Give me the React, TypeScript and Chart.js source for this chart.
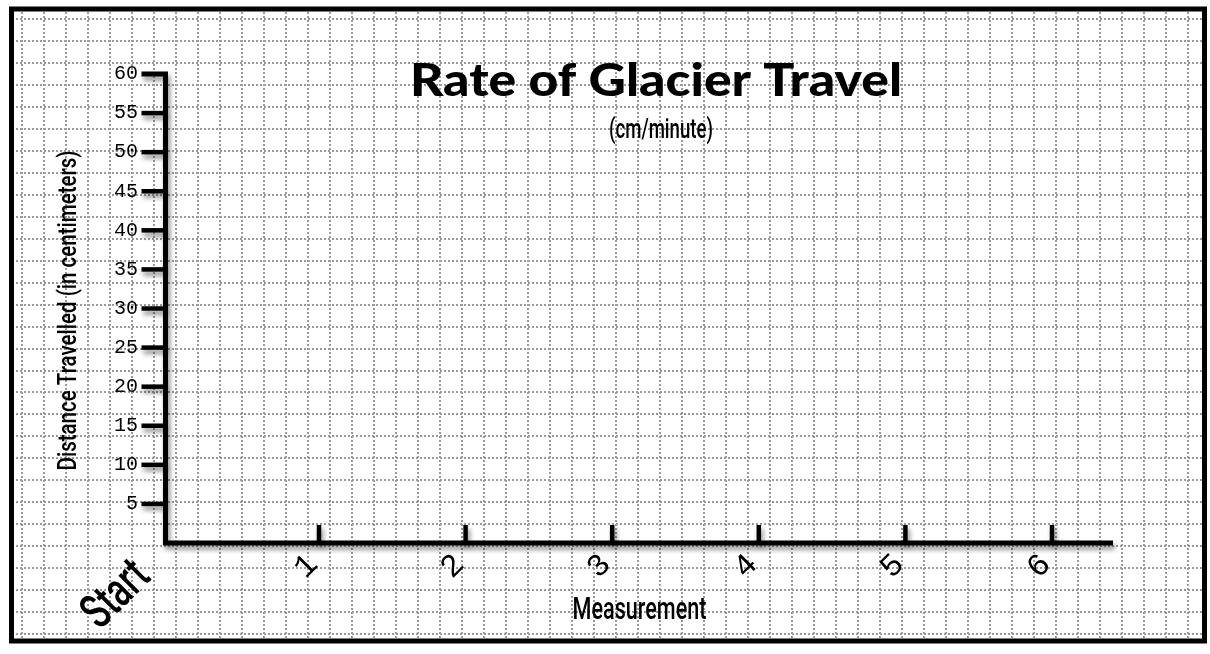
import React, { useEffect, useRef } from 'react';
import { Chart, registerables } from 'chart.js';

Chart.register(...registerables);

// ---- data (blank worksheet: no measurements recorded yet) ----
const xTickLabels = ['Start', '1', '2', '3', '4', '5', '6'];
const xTickValues = [0, 1, 2, 3, 4, 5, 6];
const yTickValues = [5, 10, 15, 20, 25, 30, 35, 40, 45, 50, 55, 60];
const distanceValues: { x: number; y: number }[] = [];
const titleText = 'Rate of Glacier Travel';
const subtitleText = '(cm/minute)';
const yAxisTitle = 'Distance Travelled (in centimeters)';
const xAxisTitle = 'Measurement';

const W = 1210;
const H = 654;
const COND = 'Roboto, "Noto Sans", sans-serif';
const MONO = '"Liberation Mono", "DejaVu Sans Mono", monospace';

function fitText(
  ctx: CanvasRenderingContext2D,
  text: string,
  font: string,
  cx: number,
  cy: number,
  targetWidth: number,
  rotation: number,
  baseline: CanvasTextBaseline = 'middle'
) {
  ctx.save();
  ctx.fillStyle = '#000';
  ctx.font = font;
  const w = ctx.measureText(text).width;
  ctx.translate(cx, cy);
  ctx.rotate(rotation);
  ctx.scale(targetWidth / w, 1);
  ctx.textAlign = 'center';
  ctx.textBaseline = baseline;
  ctx.fillText(text, 0, 0);
  ctx.restore();
}

const worksheetPlugin = {
  id: 'worksheet',
  beforeDraw(chart: any) {
    const ctx: CanvasRenderingContext2D = chart.ctx;
    ctx.save();
    ctx.fillStyle = '#ffffff';
    ctx.fillRect(0, 0, W, H);
    ctx.beginPath();
    ctx.rect(14, 11.5, 1188, 627);
    ctx.clip();
    ctx.strokeStyle = '#9a9a9a';
    ctx.lineWidth = 2;
    ctx.setLineDash([2, 2]);
    for (let gx = 22; gx < W; gx += 22) {
      ctx.beginPath();
      ctx.moveTo(gx, 0);
      ctx.lineTo(gx, H);
      ctx.stroke();
    }
    for (let k = 0; k < 40; k++) {
      const gy = Math.round(19.3 + 21.95 * k);
      if (gy > H) break;
      ctx.beginPath();
      ctx.moveTo(0, gy);
      ctx.lineTo(W, gy);
      ctx.stroke();
    }
    ctx.restore();
    ctx.save();
    ctx.strokeStyle = '#000';
    ctx.lineWidth = 5;
    ctx.strokeRect(11.5, 9, 1193, 632);
    ctx.restore();
  },
  afterDraw(chart: any) {
    const ctx: CanvasRenderingContext2D = chart.ctx;
    const xs = chart.scales.x;
    const ys = chart.scales.y;
    const area = chart.chartArea;
    const axisX = area.left + 1.5;
    const axisY = ys.getPixelForValue(0);
    const topY = ys.getPixelForValue(yTickValues[yTickValues.length - 1]);
    const tickLeft = axisX - 24;
    ctx.save();
    ctx.shadowColor = 'rgba(0,0,0,0.45)';
    ctx.shadowBlur = 5;
    ctx.shadowOffsetX = 2;
    ctx.shadowOffsetY = 4;
    ctx.strokeStyle = '#000';
    ctx.lineJoin = 'miter';
    ctx.lineCap = 'butt';
    ctx.lineWidth = 5;
    ctx.beginPath();
    ctx.moveTo(tickLeft, topY);
    ctx.lineTo(axisX, topY);
    ctx.lineTo(axisX, axisY);
    ctx.lineTo(area.right, axisY);
    ctx.stroke();
    ctx.lineWidth = 4.5;
    yTickValues.slice(0, -1).forEach((v) => {
      const py = ys.getPixelForValue(v);
      ctx.beginPath();
      ctx.moveTo(tickLeft, py);
      ctx.lineTo(axisX, py);
      ctx.stroke();
    });
    xTickValues.slice(1).forEach((v) => {
      const px = xs.getPixelForValue(v);
      ctx.beginPath();
      ctx.moveTo(px, axisY - 18);
      ctx.lineTo(px, axisY);
      ctx.stroke();
    });
    ctx.restore();

    // "Start" label at the origin of the measurement axis
    fitText(ctx, xTickLabels[0], `500 49px ${COND}`, xs.getPixelForValue(xTickValues[0]) - 55, axisY + 53, 74, -Math.PI / 4);

    // axis titles
    fitText(ctx, xAxisTitle, `500 32px ${COND}`, (area.left + area.right) / 2 + 1, 611, 134, 0);
    fitText(ctx, yAxisTitle, `500 26px ${COND}`, 69, (area.top + area.bottom) / 2 + 2, 320, -Math.PI / 2);

    // title + subtitle
    fitText(ctx, titleText, `900 46px Lato, "DejaVu Sans", sans-serif`, 656, 96, 492, 0, 'alphabetic');
    fitText(ctx, subtitleText, `500 27px ${COND}`, 661, 131, 104, 0);
  },
};

export default function App() {
  const canvasRef = useRef<HTMLCanvasElement | null>(null);

  useEffect(() => {
    document.body.style.margin = '0';
    const canvas = canvasRef.current;
    if (!canvas) return;
    const unit = 146.6;
    const xMin = -8.4 / unit;
    const xMax = xMin + 949 / unit;
    const chart = new Chart(canvas, {
      type: 'line',
      data: {
        datasets: [
          {
            label: yAxisTitle,
            data: distanceValues,
            borderColor: '#000',
            backgroundColor: '#000',
          },
        ],
      },
      options: {
        responsive: false,
        animation: false,
        devicePixelRatio: 1,
        layout: { padding: { top: 74, right: 97, left: 0, bottom: 0 } },
        plugins: {
          legend: { display: false },
          title: { display: false },
          tooltip: { enabled: false },
        },
        scales: {
          x: {
            type: 'linear',
            min: xMin,
            max: xMax,
            grid: { display: false, drawTicks: false },
            border: { display: false },
            afterBuildTicks: (s: any) => {
              s.ticks = xTickValues.slice(1).map((v) => ({ value: v }));
            },
            afterFit: (s: any) => {
              s.height = 111;
            },
            ticks: {
              autoSkip: false,
              minRotation: 45,
              maxRotation: 45,
              padding: 3,
              labelOffset: -6,
              color: '#000',
              font: { family: MONO, size: 32 },
              callback: (v: any) => {
                const i = xTickValues.indexOf(Number(v));
                return i >= 0 ? xTickLabels[i] : '';
              },
            },
            title: { display: false, text: xAxisTitle },
          },
          y: {
            type: 'linear',
            min: 0,
            max: 60,
            grid: { display: false, drawTicks: false },
            border: { display: false },
            afterBuildTicks: (s: any) => {
              s.ticks = yTickValues.map((v) => ({ value: v }));
            },
            afterFit: (s: any) => {
              s.width = 164;
            },
            ticks: {
              autoSkip: false,
              padding: 26,
              color: '#000',
              font: { family: MONO, size: 20 },
            },
            title: { display: false, text: yAxisTitle },
          },
        },
      } as any,
      plugins: [worksheetPlugin],
    });
    return () => chart.destroy();
  }, []);

  return (
    <div style={{ width: W, height: H }}>
      <canvas ref={canvasRef} width={W} height={H} style={{ display: 'block', width: W, height: H }} />
    </div>
  );
}
